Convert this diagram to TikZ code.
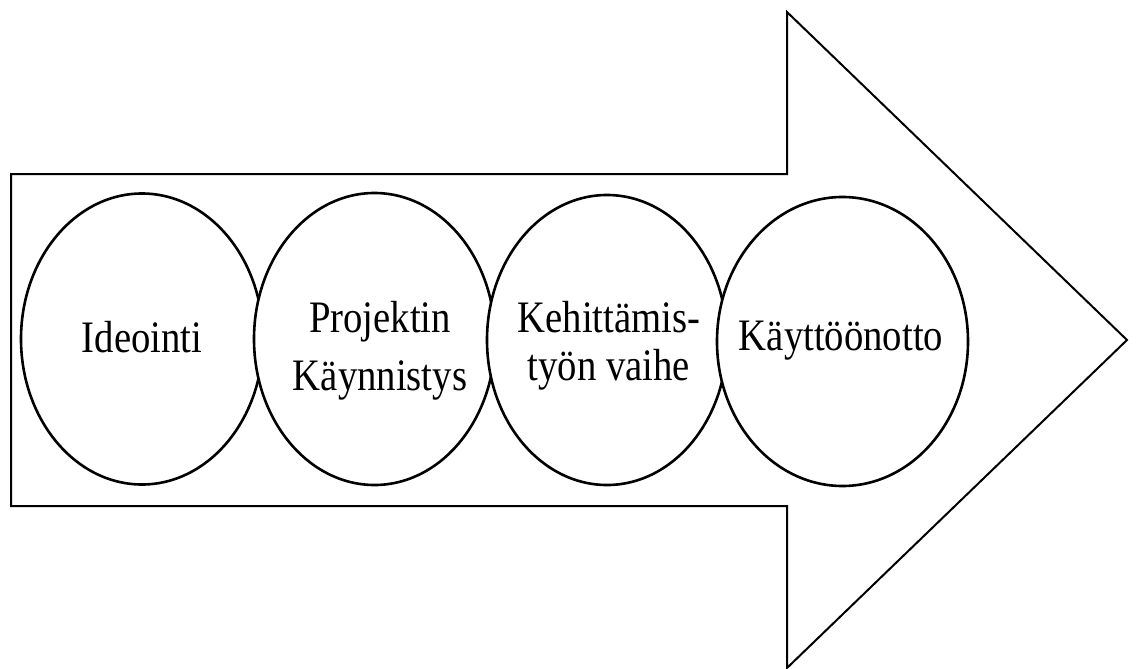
\documentclass[tikz,border=0pt]{standalone}
\usepackage{fontspec}
\setmainfont{Liberation Serif}[FakeStretch=0.86]
\usetikzlibrary{shapes.geometric}
\tikzset{
  arrowbody/.style={draw=black, line width=2pt, line join=miter},
  phase/.style={ellipse, draw=black, fill=white, line width=2.6pt, inner sep=0pt},
  lab/.style={text=black, font=\fontsize{45}{48}\selectfont, align=center},
}

\begin{document}
\begin{tikzpicture}[x=1pt, y=-1pt]
  \useasboundingbox (0,0) rectangle (1138,669);
  % big arrow
  \draw[arrowbody] (11,174) -- (787,174) -- (787,12) -- (1127,340)
    -- (787,668) -- (787,506) -- (11,506) -- cycle;
  % phases, each one covering the previous
  \node[phase, minimum width=242pt, minimum height=291pt] (p1) at (142,339) {};
  \node[phase, minimum width=241pt, minimum height=292pt] (p2) at (374.5,339) {};
  \node[phase, minimum width=240pt, minimum height=290pt] (p3) at (607,340) {};
  \node[phase, minimum width=251pt, minimum height=289pt] (p4) at (842.5,341.5) {};
  % labels
  \node[lab] (t1) at (142,337) {Ideointi};
  \node[lab] (t2) at (380,350.5) {Projektin\\[10pt]Käynnistys};
  \node[lab] (t3) at (609,345.5) {Kehittämis-\\työn vaihe};
  \node[lab] (t4) at (841,341) {Käyttöönotto};
\end{tikzpicture}
\end{document}
